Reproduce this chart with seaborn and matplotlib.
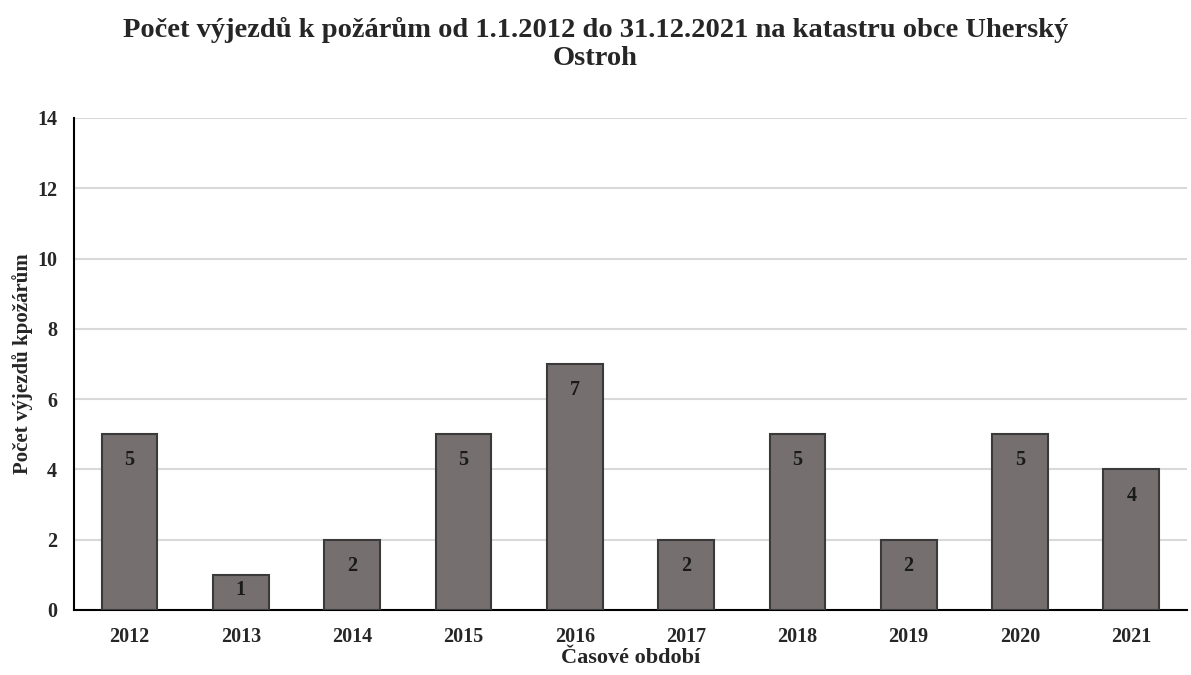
import matplotlib
matplotlib.use("Agg")
import matplotlib.pyplot as plt
import seaborn as sns
import pandas as pd

years = ["2012", "2013", "2014", "2015", "2016", "2017", "2018", "2019", "2020", "2021"]
counts = [5, 1, 2, 5, 7, 2, 5, 2, 5, 4]
title = "Počet výjezdů k požárům od 1.1.2012 do 31.12.2021 na katastru obce Uherský\nOstroh"
xlabel = "Časové období"
ylabel = "Počet výjezdů kpožárům"

sns.set_theme(style="white")
plt.rcParams["font.family"] = ["Liberation Serif", "DejaVu Serif"]
plt.rcParams["font.weight"] = "bold"

df = pd.DataFrame({"year": years, "count": counts})

fig = plt.figure(figsize=(11.91, 6.75), dpi=100)
ax = fig.add_axes([0.062, 0.0963, 0.9346, 0.7289])

sns.barplot(data=df, x="year", y="count", color="#75706f", edgecolor="#3a3a3a",
            linewidth=1.5, width=0.5, saturation=1, ax=ax, zorder=3)

ax.set_ylim(0, 14)
ax.set_yticks(range(0, 15, 2))
ax.set_xlim(-0.5, 9.5)
ax.yaxis.grid(True, color="#d9d9d9", linewidth=1.5, zorder=0)
ax.set_axisbelow(True)
for s in ["top", "right"]:
    ax.spines[s].set_visible(False)
for s in ["left", "bottom"]:
    ax.spines[s].set_color("black")
    ax.spines[s].set_linewidth(1.5)
ax.tick_params(axis="x", length=0, labelsize=14.5, pad=12)
ax.tick_params(axis="y", length=0, labelsize=14.5, pad=12)
for lab in ax.get_xticklabels() + ax.get_yticklabels():
    lab.set_fontweight("bold")

ax.set_xlabel(xlabel, fontsize=16, fontweight="bold", labelpad=1)
ax.set_ylabel(ylabel, fontsize=15, fontweight="bold", labelpad=3)

for c in ax.containers:
    vals = [p.get_height() for p in c.patches]
    tall = [f"{v:g}" if v >= 1.5 else "" for v in vals]
    short = [f"{v:g}" if v < 1.5 else "" for v in vals]
    ax.bar_label(c, labels=tall, padding=-26, fontsize=14.5, fontweight="bold", color="#1a1a1a")
    ax.bar_label(c, labels=short, padding=-18, fontsize=14.5, fontweight="bold", color="#1a1a1a")

fig.suptitle(title, fontsize=20.5, fontweight="bold", y=0.975, linespacing=1.15)

fig.savefig("out.png", dpi=100)
